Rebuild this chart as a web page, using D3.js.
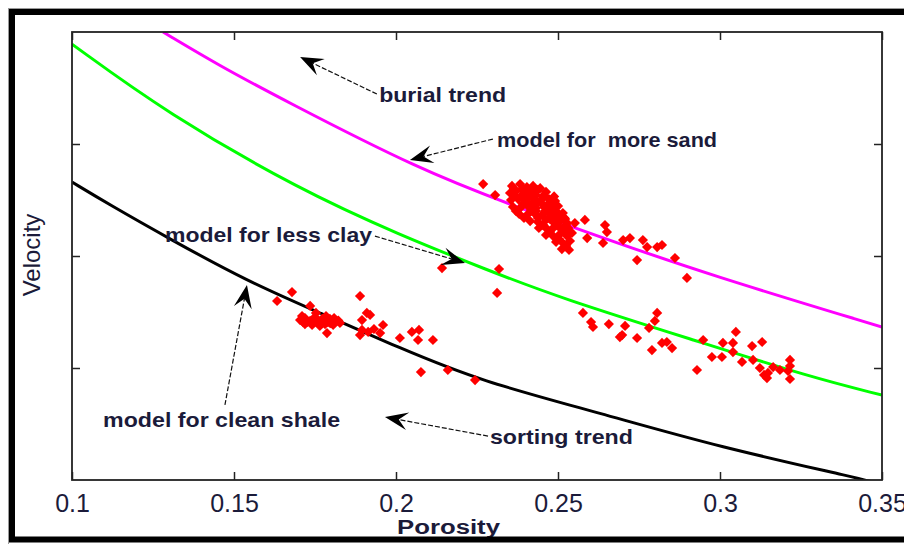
<!DOCTYPE html>
<html>
<head>
<meta charset="utf-8">
<script src="https://cdn.jsdelivr.net/npm/d3@7"></script>
<style>
  html, body { margin: 0; padding: 0; background: #ffffff; }
  svg { display: block; }
</style>
</head>
<body>
<svg id="chart" width="904" height="544"></svg>
<script>
// Axis ticks
const porosityTicks = [0.1, 0.15, 0.2, 0.25, 0.3, 0.35];
const velocityTicks = [2.5, 3.0, 3.5];

// Rock-physics model curves: [porosity, velocity]
const moreSandModel = [
  [0.1281, 4.000], [0.1457, 3.848], [0.1642, 3.705], [0.2074, 3.384],
  [0.2373, 3.219], [0.2630, 3.085], [0.2969, 2.915], [0.3500, 2.683]
];
const lessClayModel = [
  [0.1000, 3.946], [0.1293, 3.638], [0.1704, 3.295], [0.2012, 3.094],
  [0.2281, 2.938], [0.2506, 2.813], [0.2938, 2.616], [0.3278, 2.460],
  [0.3500, 2.379]
];
const cleanShaleModel = [
  [0.1000, 3.330], [0.1117, 3.228], [0.1302, 3.076], [0.1540, 2.888],
  [0.1765, 2.746], [0.2012, 2.589], [0.2259, 2.442], [0.2630, 2.299],
  [0.2997, 2.147], [0.3441, 2.004], [0.3500, 1.980]
];

// Well samples: porosity and velocity
const samplePorosity = [
  0.1679, 0.1633, 0.1735, 0.1704, 0.1719, 0.1735, 0.1750, 0.1759, 0.1772, 0.1781,
  0.1765, 0.1741, 0.1719, 0.1790, 0.1806, 0.1815, 0.1753, 0.1784, 0.1787, 0.1827,
  0.1889, 0.1910, 0.1895, 0.1920, 0.1895, 0.1914, 0.1932, 0.1951, 0.1960, 0.1889,
  0.2012, 0.2049, 0.2071, 0.2068, 0.2114, 0.2077, 0.2160, 0.2244, 0.2142, 0.2318,
  0.2312, 0.2269, 0.2306, 0.2358, 0.2383, 0.2404, 0.2423, 0.2352, 0.2370, 0.2395,
  0.2417, 0.2438, 0.2463, 0.2355, 0.2377, 0.2401, 0.2426, 0.2448, 0.2472, 0.2491,
  0.2361, 0.2383, 0.2407, 0.2432, 0.2457, 0.2481, 0.2500, 0.2380, 0.2404, 0.2426,
  0.2451, 0.2475, 0.2497, 0.2515, 0.2414, 0.2438, 0.2463, 0.2485, 0.2506, 0.2528,
  0.2441, 0.2466, 0.2488, 0.2509, 0.2531, 0.2463, 0.2485, 0.2506, 0.2528, 0.2543,
  0.2494, 0.2515, 0.2537, 0.2512, 0.2534, 0.2552, 0.2583, 0.2645, 0.2651, 0.2590,
  0.2639, 0.2701, 0.2722, 0.2762, 0.2775, 0.2806, 0.2821, 0.2744, 0.2861, 0.2898,
  0.2577, 0.2602, 0.2608, 0.2657, 0.2707, 0.2698, 0.2691, 0.2744, 0.2781, 0.2806,
  0.2799, 0.2790, 0.2821, 0.2836, 0.2852, 0.2929, 0.2948, 0.2975, 0.3006, 0.3009,
  0.3040, 0.3049, 0.3040, 0.3068, 0.3099, 0.3130, 0.3102, 0.3123, 0.3136, 0.3148,
  0.3145, 0.3185, 0.3216, 0.3216, 0.3210, 0.3216, 0.3164,
  0.2364, 0.2392, 0.2420, 0.2445, 0.2369, 0.2398, 0.2429, 0.2458, 0.2488, 0.2392,
  0.2420, 0.2450, 0.2478, 0.2432, 0.2460, 0.2495, 0.2520, 0.2474, 0.2500, 0.2525,
  0.1712, 0.1727, 0.1745, 0.1768, 0.1797, 0.1822,
  0.2364, 0.2389, 0.2410, 0.2432, 0.2454, 0.2364, 0.2386, 0.2410, 0.2469, 0.2435,
  0.2392, 0.2370, 0.2417, 0.2463, 0.2491, 0.2395, 0.2438, 0.2485, 0.2454, 0.2497,
  0.2522, 0.2475, 0.2518, 0.2503, 0.2525,
  0.1713, 0.1796, 0.1710, 0.1809
];
const sampleVelocity = [
  2.839, 2.799, 2.777, 2.714, 2.723, 2.710, 2.728, 2.705, 2.719, 2.696,
  2.688, 2.692, 2.696, 2.705, 2.692, 2.710, 2.746, 2.732, 2.656, 2.701,
  2.821, 2.746, 2.714, 2.737, 2.670, 2.661, 2.674, 2.656, 2.692, 2.647,
  2.634, 2.661, 2.670, 2.625, 2.625, 2.482, 2.491, 2.446, 2.946, 2.942,
  2.835, 3.321, 3.272, 3.313, 3.321, 3.308, 3.313, 3.281, 3.290, 3.281,
  3.286, 3.295, 3.286, 3.250, 3.254, 3.246, 3.259, 3.250, 3.254, 3.246,
  3.219, 3.214, 3.223, 3.214, 3.219, 3.210, 3.223, 3.188, 3.183, 3.192,
  3.183, 3.188, 3.179, 3.192, 3.156, 3.152, 3.161, 3.152, 3.156, 3.147,
  3.125, 3.121, 3.129, 3.121, 3.125, 3.094, 3.089, 3.098, 3.089, 3.103,
  3.063, 3.058, 3.067, 3.031, 3.027, 3.147, 3.161, 3.138, 3.107, 3.080,
  3.058, 3.071, 3.080, 3.071, 3.040, 3.040, 3.049, 2.982, 2.991, 2.902,
  2.746, 2.705, 2.683, 2.696, 2.688, 2.647, 2.638, 2.634, 2.679, 2.746,
  2.710, 2.580, 2.612, 2.616, 2.589, 2.491, 2.625, 2.549, 2.549, 2.612,
  2.612, 2.661, 2.571, 2.527, 2.598, 2.616, 2.536, 2.500, 2.469, 2.478,
  2.455, 2.491, 2.536, 2.509, 2.487, 2.451, 2.504,
  3.300, 3.302, 3.299, 3.303, 3.268, 3.266, 3.270, 3.268, 3.266, 3.233,
  3.235, 3.234, 3.232, 3.200, 3.201, 3.199, 3.170, 3.167, 3.168, 3.138,
  2.719, 2.706, 2.714, 2.702, 2.700, 2.712,
  3.299, 3.299, 3.295, 3.272, 3.268, 3.268, 3.268, 3.263, 3.232, 3.237,
  3.232, 3.201, 3.201, 3.201, 3.196, 3.170, 3.170, 3.170, 3.138, 3.138,
  3.165, 3.107, 3.107, 3.076, 3.045,
  2.705, 2.719, 2.732, 2.723
];

// Annotation labels with arrows (data coordinates)
const noteText = ["burial trend", "model for  more sand", "model for less clay", "model for clean shale", "sorting trend"];
const noteAt = [[0.1948, 3.6875], [0.2312, 3.487], [0.1287, 3.0625], [0.1096, 2.237], [0.2290, 2.161]];
const noteWidth = [127, 220, 207, 237, 143];
const arrowFrom = [[0.1941, 3.723], [0.2299, 3.522], [0.1935, 3.089], [0.1472, 2.335], [0.2284, 2.196]];
const arrowTo = [[0.1704, 3.888], [0.2043, 3.429], [0.2213, 2.969], [0.1540, 2.871], [0.1966, 2.281]];

const svg = d3.select("#chart");
const W = 904, H = 544;
const plot = { left: 72, top: 32, right: 882, bottom: 480 };
const textColor = "#1b1b3a";
const fontFamily = "'Liberation Sans', Arial, sans-serif";

svg.append("rect").attr("width", W).attr("height", H).attr("fill", "#ffffff");

const x = d3.scaleLinear().domain([0.1, 0.35]).range([plot.left, plot.right]);
const y = d3.scaleLinear().domain([2.0, 4.0]).range([plot.bottom, plot.top]);

svg.append("clipPath").attr("id", "plotClip")
  .append("rect")
  .attr("x", plot.left).attr("y", plot.top)
  .attr("width", plot.right - plot.left).attr("height", plot.bottom - plot.top);

// Model curves
const line = d3.line().x(d => x(d[0])).y(d => y(d[1])).curve(d3.curveBasis);
const curves = svg.append("g").attr("clip-path", "url(#plotClip)");
[[moreSandModel, "#ff00ff"], [lessClayModel, "#00ff00"], [cleanShaleModel, "#000000"]]
  .forEach(([pts, color]) => {
    curves.append("path")
      .attr("d", line(pts))
      .attr("fill", "none")
      .attr("stroke", color)
      .attr("stroke-width", 3);
  });

// Sample points as red diamonds
const diamond = d3.symbol().type(d3.symbolSquare).size(52);
svg.append("g").attr("clip-path", "url(#plotClip)")
  .selectAll("path")
  .data(d3.range(samplePorosity.length))
  .join("path")
  .attr("d", diamond)
  .attr("transform", i => `translate(${x(samplePorosity[i])},${y(sampleVelocity[i])}) rotate(45)`)
  .attr("fill", "#ff0000");

// Axes with inward ticks, frame drawn separately
const styleAxis = g => {
  g.select(".domain").remove();
  g.selectAll(".tick line").attr("stroke", "#222").attr("stroke-width", 1.5);
};
svg.append("g")
  .attr("transform", `translate(0,${plot.bottom})`)
  .call(d3.axisBottom(x).tickValues(porosityTicks).tickSizeInner(-8).tickSizeOuter(0)
    .tickPadding(14).tickFormat(d => String(d)))
  .call(styleAxis)
  .call(g => g.selectAll(".tick text")
    .attr("font-family", fontFamily).attr("font-size", 25).attr("fill", textColor));
svg.append("g")
  .attr("transform", `translate(0,${plot.top})`)
  .call(d3.axisTop(x).tickValues(porosityTicks).tickSizeInner(-8).tickSizeOuter(0).tickFormat(""))
  .call(styleAxis);
svg.append("g")
  .attr("transform", `translate(${plot.left},0)`)
  .call(d3.axisLeft(y).tickValues(velocityTicks).tickSizeInner(-8).tickSizeOuter(0).tickFormat(""))
  .call(styleAxis);
svg.append("g")
  .attr("transform", `translate(${plot.right},0)`)
  .call(d3.axisRight(y).tickValues(velocityTicks).tickSizeInner(-8).tickSizeOuter(0).tickFormat(""))
  .call(styleAxis);

svg.append("rect")
  .attr("x", plot.left).attr("y", plot.top)
  .attr("width", plot.right - plot.left).attr("height", plot.bottom - plot.top)
  .attr("fill", "none").attr("stroke", "#222").attr("stroke-width", 1.8);

// Axis titles
svg.append("text")
  .attr("x", 397).attr("y", 534)
  .attr("font-family", fontFamily).attr("font-size", 20).attr("font-weight", "bold")
  .attr("fill", textColor)
  .attr("textLength", 103).attr("lengthAdjust", "spacingAndGlyphs")
  .text("Porosity");
svg.append("text")
  .attr("transform", "translate(40,255) rotate(-90)")
  .attr("text-anchor", "middle")
  .attr("font-family", fontFamily).attr("font-size", 24)
  .attr("fill", textColor)
  .text("Velocity");

// Annotation arrows
const arrows = svg.append("g");
noteText.forEach((t, i) => {
  const x0 = x(arrowFrom[i][0]), y0 = y(arrowFrom[i][1]);
  const x1 = x(arrowTo[i][0]), y1 = y(arrowTo[i][1]);
  const ang = Math.atan2(y1 - y0, x1 - x0);
  const L = 23, hw = 9, notch = 14;
  const ca = Math.cos(ang), sa = Math.sin(ang);
  const pt = (a, b) => [x1 - a * ca - b * sa, y1 - a * sa + b * ca];
  const nb = pt(notch, 0);
  arrows.append("line")
    .attr("x1", x0).attr("y1", y0).attr("x2", nb[0]).attr("y2", nb[1])
    .attr("stroke", "#111").attr("stroke-width", 1.2)
    .attr("stroke-dasharray", "5,2");
  const p1 = pt(L, hw), p2 = pt(L, -hw);
  arrows.append("path")
    .attr("d", `M${x1},${y1}L${p1[0]},${p1[1]}L${nb[0]},${nb[1]}L${p2[0]},${p2[1]}Z`)
    .attr("fill", "#000");
});

// Annotation labels
svg.append("g").selectAll("text")
  .data(noteText)
  .join("text")
  .attr("x", (d, i) => x(noteAt[i][0]))
  .attr("y", (d, i) => y(noteAt[i][1]))
  .attr("font-family", fontFamily).attr("font-size", 21).attr("font-weight", "bold")
  .attr("fill", textColor)
  .attr("textLength", (d, i) => noteWidth[i])
  .attr("lengthAdjust", "spacingAndGlyphs")
  .style("white-space", "pre")
  .text(d => d);

// Figure border
svg.append("rect")
  .attr("x", 8.5).attr("y", 8.5).attr("width", 920).attr("height", 536)
  .attr("fill", "none").attr("stroke", "#9a9a9a").attr("stroke-width", 1);
svg.append("rect")
  .attr("x", 12).attr("y", 12).attr("width", 910).attr("height", 527.5)
  .attr("fill", "none").attr("stroke", "#000").attr("stroke-width", 6);
</script>
</body>
</html>
